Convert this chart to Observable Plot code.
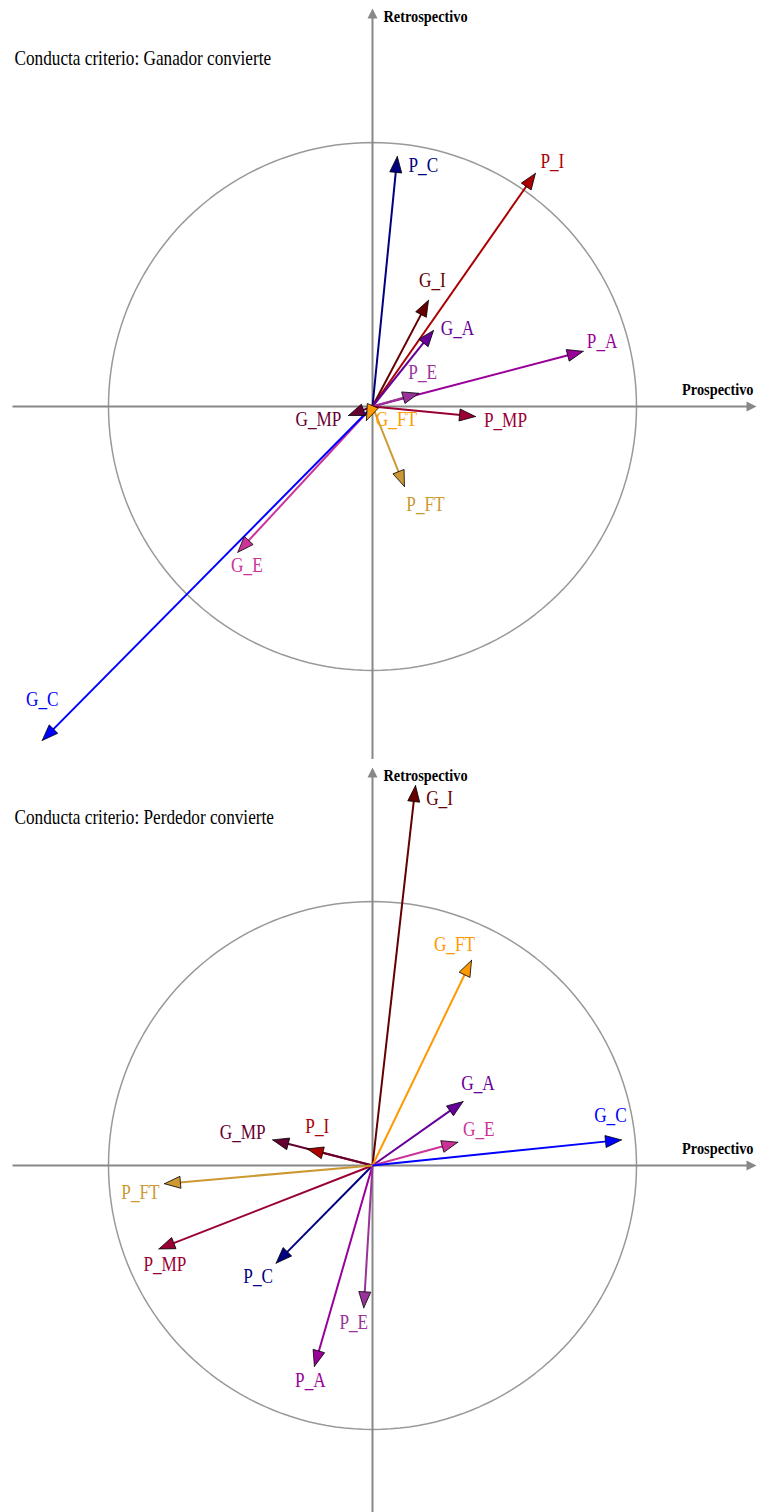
<!DOCTYPE html>
<html><head><meta charset="utf-8">
<script src="https://cdn.jsdelivr.net/npm/d3@7"></script>
<script src="https://cdn.jsdelivr.net/npm/@observablehq/plot@0.6"></script>
<style>body{margin:0;background:#fff} svg{display:block}</style>
</head><body><div id="chart"></div>
<script>
// ---- data ----
const variables = ["P_C","P_I","G_I","G_A","P_A","P_E","G_MP","G_FT","P_MP","P_FT","G_E","G_C"];
// Panel 1: Conducta criterio: Ganador convierte
const ganadorX = [0.094, 0.617, 0.212, 0.231, 0.798, 0.175, -0.091, -0.023, 0.390, 0.121, -0.510, -1.251];
const ganadorY = [0.947, 0.883, 0.402, 0.288, 0.209, 0.050, -0.034, -0.053, -0.038, -0.303, -0.552, -1.265];
// Panel 2: Conducta criterio: Perdedor convierte
const perdedorX = [-0.365, -0.247, 0.163, 0.343, -0.220, -0.033, -0.378, 0.375, -0.809, -0.788, 0.323, 0.943];
const perdedorY = [-0.370, 0.063, 1.439, 0.242, -0.761, -0.539, 0.097, 0.777, -0.316, -0.069, 0.088, 0.097];
const titles = ["Conducta criterio: Ganador convierte", "Conducta criterio: Perdedor convierte"];
const axisX = "Prospectivo";
const axisY = "Retrospectivo";

// ---- styles ----
const palette = {
  P_C: "#000080", P_I: "#aa0000", G_I: "#660000", G_A: "#660099", P_A: "#990099", P_E: "#993399",
  G_MP: "#660033", G_FT: "#ff9900", P_MP: "#990033", P_FT: "#cc9933", G_E: "#cc3399", G_C: "#0000ff"
};
// label offsets (px) from arrow tip
const labelOffsets1 = {
  P_C: [26, 10], P_I: [17, -11], G_I: [4, -19], G_A: [24, -1], P_A: [19, -9], P_E: [4, -20],
  G_MP: [-30, 5], G_FT: [30, 0], P_MP: [30, 4], P_FT: [21, 19], G_E: [9, 14], G_C: [0, -40]
};
const labelOffsets2 = {
  P_C: [-18, 14], P_I: [10, -22], G_I: [24, 13], G_A: [15, -18], P_A: [-4, 15], P_E: [-10, 15],
  G_MP: [-30, -7], G_FT: [-17, -15], P_MP: [6, 16], P_FT: [-24, 9], G_E: [21, -12], G_C: [-11, -24]
};

const W = 757, UNIT = 264, OX = 372, OY = 406, SX = 0.82;
const FONT = "Liberation Serif, Times New Roman, serif";

function panel(xs, ys, title, offsets, H) {
  const px = p => (p - OX) / UNIT;
  const py = p => (OY - p) / UNIT;
  const rows = variables.map((v, i) => ({
    name: v, x: xs[i], y: ys[i], color: palette[v],
    lx: xs[i] + offsets[v][0] / UNIT, ly: ys[i] - offsets[v][1] / UNIT
  }));
  const L = 16 / UNIT, HW = 6 / UNIT;
  const tri = (id, x, y, ux, uy, len, hw, color) => {
    const nx = -uy, ny = ux, bx = x - len * ux, by = y - len * uy;
    return [[x, y], [bx + hw * nx, by + hw * ny], [bx - hw * nx, by - hw * ny], [x, y]]
      .map(([a, b]) => ({id, x: a, y: b, color}));
  };
  const heads = rows.flatMap(d => {
    const n = Math.hypot(d.x, d.y);
    return tri(d.name, d.x, d.y, d.x / n, d.y / n, L, HW, d.color);
  });
  const shafts = rows.map(d => {
    const n = Math.hypot(d.x, d.y);
    return {...d, ex: d.x - (L * 0.6) * d.x / n, ey: d.y - (L * 0.6) * d.y / n};
  });
  const circle = d3.range(0, 361, 2).map(a => ({x: Math.cos(a * Math.PI / 180), y: Math.sin(a * Math.PI / 180)}));
  const axisHeads = [
    ...tri("ax", px(756), 0, 1, 0, 10 / UNIT, 5 / UNIT, "#888"),
    ...tri("ay", 0, py(8), 0, 1, 10 / UNIT, 5 / UNIT, "#888")
  ];
  const svg = Plot.plot({
    width: W, height: H, margin: 0,
    x: {domain: [px(0), px(W)], range: [0, W], axis: null},
    y: {domain: [py(H), py(0)], range: [H, 0], axis: null},
    color: {type: "identity"},
    marks: [
      Plot.line(circle, {x: "x", y: "y", stroke: "#999", strokeWidth: 1.5}),
      Plot.link([0], {x1: px(12), x2: px(747), y1: 0, y2: 0, stroke: "#888", strokeWidth: 2}),
      Plot.link([0], {x1: 0, x2: 0, y1: py(H), y2: py(17), stroke: "#888", strokeWidth: 2}),
      Plot.line(axisHeads, {x: "x", y: "y", z: "id", fill: "#888", stroke: "none"}),
      Plot.link(shafts, {x1: 0, y1: 0, x2: "ex", y2: "ey", stroke: "color", strokeWidth: 2}),
      Plot.line(heads, {x: "x", y: "y", z: "id", fill: "color", stroke: "black", strokeWidth: 0.8, strokeLinejoin: "miter"}),
      Plot.text(rows, {x: "lx", y: "ly", text: "name", fill: "color", fontSize: 21, fontFamily: FONT, textAnchor: "middle", dy: 6}),
      Plot.text([title], {x: px(14), y: py(58), text: d => d, textAnchor: "start", fontSize: 21, fontFamily: FONT, fill: "black", dy: 6}),
      Plot.text([axisX], {x: px(753), y: py(390), text: d => d, textAnchor: "end", fontSize: 17.5, fontWeight: "bold", fontFamily: FONT, fill: "black", dy: 4}),
      Plot.text([axisY], {x: px(383), y: py(17), text: d => d, textAnchor: "start", fontSize: 17.5, fontWeight: "bold", fontFamily: FONT, fill: "black", dy: 4})
    ]
  });
  svg.querySelectorAll("text").forEach(t => {
    const x = +t.getAttribute("x") || 0, y = +t.getAttribute("y") || 0;
    const tr = t.getAttribute("transform") || "";
    t.setAttribute("transform", `${tr} translate(${x},${y}) scale(${SX},1)`);
    t.removeAttribute("x"); t.removeAttribute("y");
  });
  return svg;
}

const root = document.getElementById("chart");
root.append(panel(ganadorX, ganadorY, titles[0], labelOffsets1, 759));
root.append(panel(perdedorX, perdedorY, titles[1], labelOffsets2, 753));
</script>
</body></html>
